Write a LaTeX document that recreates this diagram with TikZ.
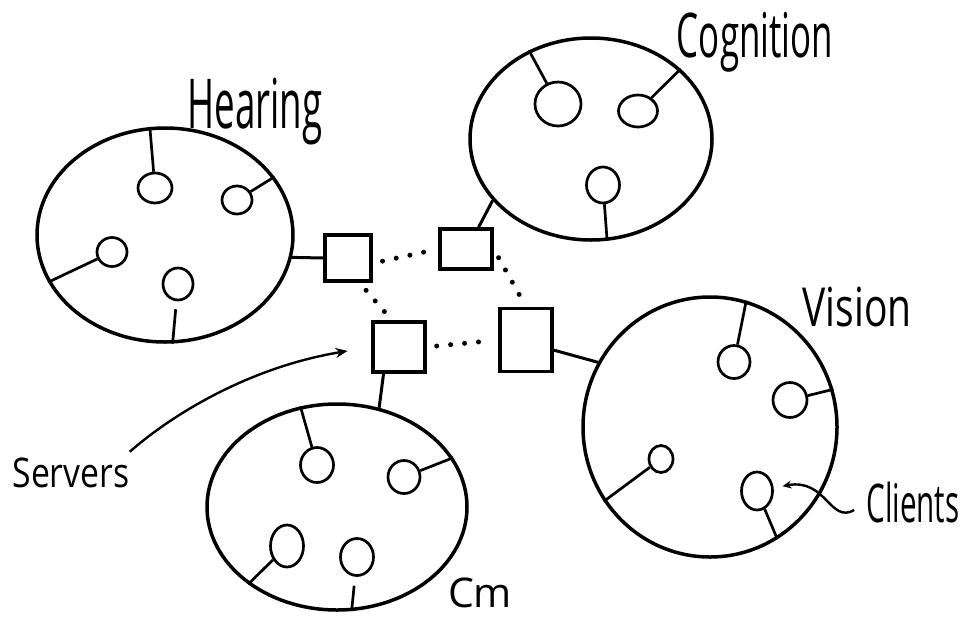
\documentclass[tikz,border=0pt]{standalone}
\usepackage{fontspec}
\setmainfont{Open Sans}
\usetikzlibrary{shapes.geometric,arrows.meta}
\begin{document}
\begin{tikzpicture}[x=1pt,y=-1pt,
  group/.style={draw, ellipse, line width=3.5pt, inner sep=0pt},
  client/.style={draw, ellipse, line width=2.7pt, inner sep=0pt},
  server/.style={draw, rectangle, line width=3.5pt, inner sep=0pt},
  stem/.style={line width=2.7pt},
  link/.style={line width=3pt},
  dots/.style={line width=5pt, line cap=round, dash pattern=on 0pt off 14pt, shorten <=10pt, shorten >=8pt},
  pointer/.style={line width=2.4pt, -{Stealth[length=12pt,width=10pt]}},
  lbl/.style={inner sep=0pt}]
\useasboundingbox (0,0) rectangle (963,616);
\fill[white] (0,0) rectangle (963,616);

% groups
\node[group, minimum width=256pt, minimum height=214pt] (H) at (165,235) {};
\node[group, minimum width=242pt, minimum height=202pt] (C) at (591,139) {};
\node[group, minimum width=254pt, minimum height=260pt] (V) at (710,427) {};
\node[group, minimum width=260pt, minimum height=206pt] (M) at (337,507) {};

% servers
\node[server, minimum width=46pt, minimum height=46pt] (S1) at (348,258) {};
\node[server, minimum width=52pt, minimum height=40pt] (S2) at (466,249) {};
\node[server, minimum width=52pt, minimum height=50pt] (S3) at (399,347) {};
\node[server, minimum width=52pt, minimum height=63pt] (S4) at (526,340) {};

% clients - Hearing
\node[client, minimum width=34pt, minimum height=30pt] (h1) at (155,188) {};
\node[client, minimum width=30pt, minimum height=28pt] (h2) at (237,200) {};
\node[client, minimum width=30pt, minimum height=29pt] (h3) at (112,252) {};
\node[client, minimum width=30pt, minimum height=32pt] (h4) at (178,284) {};
% clients - Cognition
\node[client, minimum width=46pt, minimum height=44pt] (c1) at (558,104) {};
\node[client, minimum width=39pt, minimum height=32pt] (c2) at (638,111) {};
\node[client, minimum width=33pt, minimum height=36pt] (c3) at (603,185) {};
% clients - Vision
\node[client, minimum width=32pt, minimum height=33pt] (v1) at (734,362) {};
\node[client, minimum width=34pt, minimum height=35pt] (v2) at (790,400) {};
\node[client, minimum width=24pt, minimum height=27pt] (v3) at (661,459) {};
\node[client, minimum width=31pt, minimum height=38pt] (v4) at (757,491) {};
% clients - Cm
\node[client, minimum width=33pt, minimum height=35pt] (m1) at (317,465) {};
\node[client, minimum width=32pt, minimum height=33pt] (m2) at (404,477) {};
\node[client, minimum width=33pt, minimum height=42pt] (m3) at (287,546) {};
\node[client, minimum width=33pt, minimum height=37pt] (m4) at (357,557) {};

% stems
\draw[stem] (h1) -- (H.98);
\draw[stem] (h2) -- (H.28);
\draw[stem] (h3) -- (H.202);
\draw[stem, shorten <=8pt] (h4) -- (H.274);
\draw[stem] (c1) -- (C.125);
\draw[stem] (c2) -- (C.38);
\draw[stem] (c3) -- (C.279);
\draw[stem] (v1) -- (V.74);
\draw[stem] (v2) -- (V.17);
\draw[stem] (v3) -- (V.215);
\draw[stem] (v4) -- (V.301);
\draw[stem] (m1) -- (M.110);
\draw[stem] (m2) -- (M.23);
\draw[stem] (m3) -- (M.221);
\draw[stem, shorten <=9pt] (m4) -- (M.278);

% server to group links
\draw[link] (H.-10) -- (S1.west);
\draw[link] (C.212) -- (S2.60);
\draw[link] (S3.240) -- (M.67);
\draw[link] (S4.-20) -- (V.150);

% server to server dotted links
\draw[dots] (S1.-12) -- (S2.west);
\draw[dots] (S1.-65) -- (S3.105);
\draw[dots] (S2.east) -- (S4.north);
\draw[dots] (S3.east) -- (S4.west);

% labels
\node[lbl] (lH) at (255,112) {\resizebox*{135pt}{67pt}{Hearing}};
\node[lbl] (lC) at (755,42) {\resizebox*{156pt}{60pt}{Cognition}};
\node[lbl] (lV) at (857,307) {\resizebox*{109pt}{40pt}{Vision}};
\node[lbl] (lM) at (480,593) {\resizebox*{64pt}{30pt}{Cm}};
\node[lbl] (lS) at (71,473) {\resizebox*{117pt}{30pt}{Servers}};
\node[lbl] (lK) at (913,503) {\resizebox*{93pt}{41pt}{Clients}};

% pointers
\draw[pointer, shorten >=24pt] ([yshift=6pt]lS.north east) .. controls (168,418) and (245,368) .. (S3.west);
\draw[line width=2.4pt, -{Stealth[length=9pt,width=8pt]}, shorten <=14pt, shorten >=9pt] (lK.west) .. controls (830,524) and (826,478) .. (v4);
\end{tikzpicture}
\end{document}
